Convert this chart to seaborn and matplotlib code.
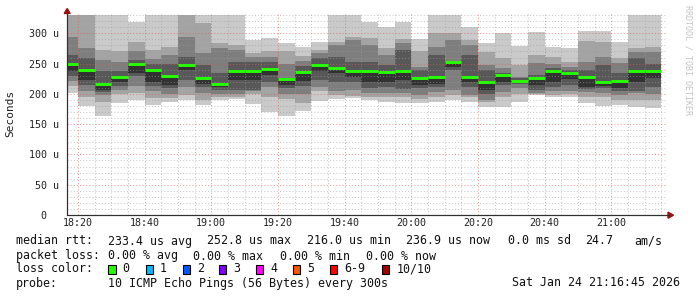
import numpy as np
import pandas as pd
import matplotlib
matplotlib.use("Agg")
import matplotlib.pyplot as plt
from matplotlib.patches import Polygon, Rectangle
import seaborn as sns

# ---------------- data ----------------
# time axis in minutes after 18:00 ; graph window 18:16:45 .. 21:16:45
window_start = 16.75
window_end = 196.75
bin_start = [16.75, 20, 25, 30, 35, 40, 45, 50, 55, 60, 65, 70, 75, 80, 85, 90, 95, 100,
             105, 110, 115, 120, 125, 130, 135, 140, 145, 150, 155, 160, 165, 170, 175,
             180, 185, 190]
bin_end = [20, 25, 30, 35, 40, 45, 50, 55, 60, 65, 70, 75, 80, 85, 90, 95, 100, 105,
           110, 115, 120, 125, 130, 135, 140, 145, 150, 155, 160, 165, 170, 175, 180,
           185, 190, 195]

# sorted ping RTTs (microseconds), ping06 is the median drawn in green
ping01 = [201, 180, 164, 185, 190, 182, 187, 190, 181.6, 190, 192, 184, 170.6, 163, 171, 188, 191, 194,
          190, 187, 185.5, 184.4, 187, 190, 187, 179, 177.8, 187, 198, 195.4, 195.4, 184.4, 180, 181.6, 177.8, 176]
ping02 = [213, 195, 187, 200, 201, 193, 194, 198, 190, 195, 195, 200, 195.4, 192, 185, 205, 198, 196,
          195, 195, 195, 192, 195.4, 198, 195, 186, 195, 200, 200, 198, 200, 195.4, 195, 190, 190, 190]
ping03 = [222, 204, 198, 207, 213, 204, 200, 211, 202, 200, 200, 204, 212, 200, 200, 212, 204, 206,
          201, 201, 201, 198, 203.6, 206, 198, 190, 203.6, 210, 202, 205, 205, 203.6, 200.8, 198, 200.8, 200]
ping04 = [229, 215, 203, 213, 229, 213, 209, 223, 212, 206, 206, 206, 220, 209, 213, 223, 220, 220,
          209, 212, 207.5, 209, 211, 240, 212, 200, 214.6, 216, 206, 212, 215, 208, 209, 205, 205, 212]
ping05 = [237, 223, 207, 220, 234, 220, 215, 239, 216, 211, 223, 223, 231, 214.6, 222, 237, 234, 228.4,
          220, 220, 223, 215, 217, 245, 220, 206.4, 220, 219, 214.6, 220, 225, 212, 213, 209, 220, 225.6]
ping06 = [249, 239.4, 216, 227.3, 249, 239.4, 229.5, 247.7, 226.8, 216.3, 238, 237.8, 241, 225, 236.7, 247.7, 242, 238,
          238.3, 235.6, 238.3, 226.8, 228, 252.6, 228.4, 220, 231, 221.8, 226, 238.3, 235, 227.3, 220, 220.7, 237.8, 237.8]
ping07 = [264, 260, 237, 238, 256, 250, 250, 261, 247.7, 234, 253, 253, 253, 227, 246, 259, 261, 253,
          253, 248, 272.5, 240, 264, 254, 264, 239.4, 234, 226, 231, 243, 240, 239.4, 247.7, 234, 258.7, 250]
ping08 = [294, 275, 256, 253, 270, 257, 264, 294.5, 267, 275, 272.5, 261, 261, 250, 255, 267, 281, 289,
          281, 264, 283.5, 245, 278, 289, 280.7, 247.7, 242, 228.4, 250.4, 250, 245, 253, 261.4, 250.4, 269.7, 269.7]
ping09 = [340, 340, 273, 271, 286, 272.5, 278, 340, 316.5, 283.5, 281, 267, 270, 270, 262, 272.5, 286, 294,
          292, 275, 290, 270, 300, 300, 289, 269.7, 258.7, 247.7, 264, 261.4, 253, 287.9, 286, 258.7, 275, 278]
ping10 = [345, 345, 345, 345, 318, 345, 345, 345, 345, 345, 345, 289, 292, 284, 278, 286, 345, 345,
          319, 310, 319, 290, 345, 345, 311, 284.5, 300, 279, 302.7, 278, 275, 304.4, 304.4, 286, 345, 345]

smoke_clip = 330
y_top = 334

x_tick_minutes = [20, 40, 60, 80, 100, 120, 140, 160, 180]
x_tick_labels = ["18:20", "18:40", "19:00", "19:20", "19:40", "20:00", "20:20", "20:40", "21:00"]
y_tick_values = [0, 50, 100, 150, 200, 250, 300]
y_tick_labels = ["0  ", "50 u", "100 u", "150 u", "200 u", "250 u", "300 u"]

loss_labels = ["0", "1", "2", "3", "4", "5", "6-9", "10/10"]
loss_colors = ["#26ff00", "#00b8ff", "#0059ff", "#7e00ff", "#ff00ff", "#ff5500", "#ff0000", "#a10000"]
smoke_grays = ["#cacaca", "#a4a4a4", "#7e7e7e", "#585858", "#323232"]

# ---------------- style ----------------
sns.set_style("white")
plt.rcParams["font.family"] = ["DejaVu Sans Mono", "DejaVu Sans"]
MONO = "DejaVu Sans Mono"

W, H = 697, 297
fig = plt.figure(figsize=(W / 100, H / 100), dpi=100)
fig.patch.set_facecolor("white")


def fx(x):
    return x / W


def fy(y):
    return 1 - y / H


ax_top_px = 215 - y_top * (215 - 33.3) / 300.0
ax = fig.add_axes([fx(67), fy(215), 600 / W, (215 - ax_top_px) / H])
ax.set_facecolor("white")

# ---------------- smoke ----------------
pings = np.vstack([ping01, ping02, ping03, ping04, ping05, ping06, ping07, ping08, ping09, ping10])
clipped = np.minimum(pings, smoke_clip)
left = np.array(bin_start, dtype=float)
right = np.array(bin_end, dtype=float)
width = right - left
for i in range(5):
    lo = clipped[i]
    hi = clipped[9 - i]
    ax.bar(left, hi - lo, bottom=lo, width=width, align="edge", color=smoke_grays[i],
           linewidth=0, antialiased=False, zorder=1)

# ---------------- grid (drawn over the smoke) ----------------
minor_y = [v for v in range(10, 331, 10) if v % 50 != 0]
major_y = [50, 100, 150, 200, 250, 300]
minor_x = [m for m in range(25, 196, 5) if m not in x_tick_minutes]
grid_minor = (0.62, 0.62, 0.62, 0.55)
grid_major = (0.88, 0.35, 0.35, 0.6)
ax.hlines(minor_y, window_start, window_end, colors=[grid_minor], linestyles=[(0, (1, 2))],
          linewidth=0.75, zorder=2)
ax.vlines(minor_x, 0, y_top, colors=[grid_minor], linestyles=[(0, (1, 2))], linewidth=0.75, zorder=2)
ax.hlines(major_y, window_start, window_end, colors=[grid_major], linestyles=[(0, (1, 2))],
          linewidth=0.75, zorder=2)
ax.vlines(x_tick_minutes, 0, y_top, colors=[grid_major], linestyles=[(0, (1, 2))], linewidth=0.75, zorder=2)

# ---------------- median ----------------
n = len(ping06)
med_df = pd.DataFrame({
    "t": np.concatenate([left, right]),
    "rtt": np.concatenate([ping06, ping06]),
    "col": np.concatenate([np.arange(n), np.arange(n)]),
})
sns.lineplot(data=med_df, x="t", y="rtt", units="col", estimator=None, color=loss_colors[0],
             linewidth=2.1, ax=ax, legend=False, solid_capstyle="butt", zorder=3)

# ---------------- axes ----------------
ax.set_xlim(window_start, window_end)
ax.set_ylim(0, y_top)
ax.set_xticks(x_tick_minutes)
ax.set_xticklabels(x_tick_labels, family=MONO, fontsize=7.2, color="#202020")
ax.set_yticks(y_tick_values)
ax.set_yticklabels(y_tick_labels, family=MONO, fontsize=7.2, color="#202020")
ax.tick_params(axis="x", length=0, pad=2.5)
ax.tick_params(axis="y", length=0, pad=5.6)
ax.set_xlabel("")
ax.set_ylabel("")
for s in ["top", "right"]:
    ax.spines[s].set_visible(False)
for s in ["left", "bottom"]:
    ax.spines[s].set_color("#303030")
    ax.spines[s].set_linewidth(0.8)
    ax.spines[s].set_zorder(4)

# axis extensions and arrows
fig.add_artist(plt.Line2D([fx(67), fx(67)], [fy(215), fy(12)], color="#303030", linewidth=0.8))
fig.add_artist(plt.Line2D([fx(67), fx(669)], [fy(215), fy(215)], color="#303030", linewidth=0.8))
arrow_col = "#9a1010"
fig.add_artist(Polygon([[fx(64.2), fy(13.5)], [fx(70.2), fy(13.5)], [fx(67.2), fy(8.5)]],
                       closed=True, color=arrow_col, transform=fig.transFigure))
fig.add_artist(Polygon([[fx(668), fy(212.2)], [fx(668), fy(218.2)], [fx(673.5), fy(215.2)]],
                       closed=True, color=arrow_col, transform=fig.transFigure))

# ---------------- titles / side text ----------------
fig.text(fx(10.5), fy(113.5), "Seconds", rotation=90, ha="center", va="center",
         family=MONO, fontsize=8, color="#202020")
fig.text(fx(687.8), fy(60), "RRDTOOL / TOBI OETIKER", rotation=270, ha="center", va="center",
         family=MONO, fontsize=6, color="#c4c4c4")

# ---------------- legend block ----------------
LF = 8.35
tc = "#101010"


def row(y, items):
    for x, s in items:
        fig.text(fx(x), fy(y), s, ha="left", va="center", family=MONO, fontsize=LF, color=tc)


row(241, [(16, "median rtt:"), (107.6, "233.4 us avg"), (207, "252.8 us max"),
          (306.7, "216.0 us min"), (406, "236.9 us now"), (507.7, "0.0 ms sd"),
          (585, "24.7"), (634, "am/s")])
row(256, [(16, "packet loss:"), (107.6, "0.00 % avg"), (193.3, "0.00 % max"),
          (279.5, "0.00 % min"), (365.5, "0.00 % now")])
row(269, [(16, "loss color:")])
box_x = [108.3, 145.5, 182.6, 219.2, 256.0, 292.8, 330.0, 381.8]
text_x = [122.5, 159.7, 196.8, 233.6, 270.6, 307.5, 344.6, 396.3]
for bx, tx, lab, col in zip(box_x, text_x, loss_labels, loss_colors):
    fig.add_artist(Rectangle((fx(bx), fy(273.5)), 7.2 / W, 9 / H, facecolor=col,
                             edgecolor="black", linewidth=0.8, transform=fig.transFigure))
    fig.text(fx(tx), fy(269), lab, ha="left", va="center", family=MONO, fontsize=LF, color=tc)
row(283, [(16, "probe:"), (107.6, "10 ICMP Echo Pings (56 Bytes) every 300s")])
fig.text(fx(680.5), fy(283), "Sat Jan 24 21:16:45 2026", ha="right", va="center",
         family=MONO, fontsize=LF, color=tc)

fig.savefig("out.png", dpi=100, facecolor="white")
